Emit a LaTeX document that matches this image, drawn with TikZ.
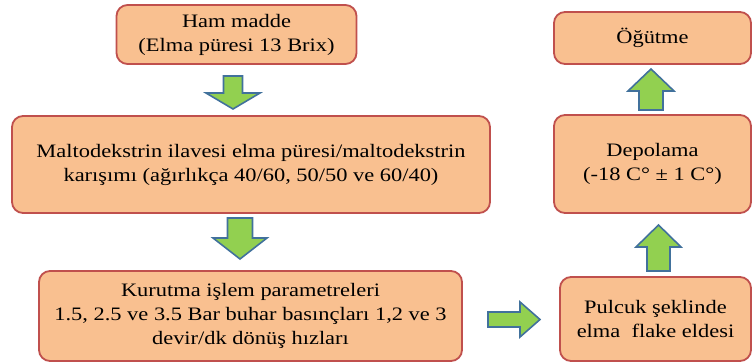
\documentclass[tikz,border=0pt]{standalone}
\usepackage{fontspec}
\setmainfont{Liberation Serif}[FakeStretch=1.18]
\usetikzlibrary{calc}
\definecolor{boxfill}{HTML}{F9C090}
\definecolor{boxline}{HTML}{C0504D}
\definecolor{arrfill}{HTML}{92D050}
\definecolor{arrline}{HTML}{41719C}
\tikzset{
  stepbox/.style={draw=boxline, line width=1.8pt, fill=boxfill, rounded corners=11pt,
    align=center, inner sep=0pt, font=\fontsize{19}{24}\selectfont},
  blkarrow/.style={draw=arrline, line width=1.6pt, fill=arrfill, line join=miter}
}
\begin{document}
\begin{tikzpicture}[x=1pt,y=-1pt]
\useasboundingbox (0,0) rectangle (753,363);
\node[stepbox, minimum width=240pt, minimum height=59pt] (ham) at (236.5,34.5) {Ham madde\\(Elma püresi 13 Brix)};
\node[stepbox, minimum width=478pt, minimum height=97pt] (malto) at (251,164.5) {Maltodekstrin ilavesi elma püresi/maltodekstrin\\karışımı (ağırlıkça 40/60, 50/50 ve 60/40)};
\node[stepbox, minimum width=423pt, minimum height=90pt] (kurutma) at (250.5,316) {Kurutma işlem parametreleri\\1.5, 2.5 ve 3.5 Bar buhar basınçları 1,2 ve 3\\devir/dk dönüş hızları};
\node[stepbox, minimum width=197pt, minimum height=52pt] (ogutme) at (652.5,38) {Öğütme};
\node[stepbox, minimum width=197pt, minimum height=98pt] (depo) at (652.5,164) {Depolama\\(-18 C° ± 1 C°)};
\node[stepbox, minimum width=191pt, minimum height=84pt] (pulcuk) at (655.5,319) {Pulcuk şeklinde\\elma\ \ flake eldesi};
% block arrows
\coordinate (a1) at (233,92.5);
\coordinate (a2) at (240,238.5);
\coordinate (a3) at (514,319.5);
\coordinate (a4) at (658.5,248);
\coordinate (a5) at (651,89.5);
\draw[blkarrow, shift={(a1)}] (-9.5,-16.5) -- (9.5,-16.5) -- (9.5,0.5) -- (27,0.5) -- (0,16.5) -- (-27,0.5) -- (-9.5,0.5) -- cycle;
\draw[blkarrow, shift={(a2)}] (-12.5,-20.5) -- (12.5,-20.5) -- (12.5,-0.5) -- (27,-0.5) -- (0,20.5) -- (-27,-0.5) -- (-12.5,-0.5) -- cycle;
\draw[blkarrow, shift={(a3)}] (-26,-7.5) -- (6,-7.5) -- (6,-17.5) -- (26,0) -- (6,17.5) -- (6,7.5) -- (-26,7.5) -- cycle;
\draw[blkarrow, shift={(a4)}] (-11.5,23) -- (11.5,23) -- (11.5,-1) -- (22.5,-1) -- (0,-23) -- (-22.5,-1) -- (-11.5,-1) -- cycle;
\draw[blkarrow, shift={(a5)}] (-12,20.5) -- (12,20.5) -- (12,1.5) -- (23,1.5) -- (0,-20.5) -- (-23,1.5) -- (-12,1.5) -- cycle;
\end{tikzpicture}
\end{document}
